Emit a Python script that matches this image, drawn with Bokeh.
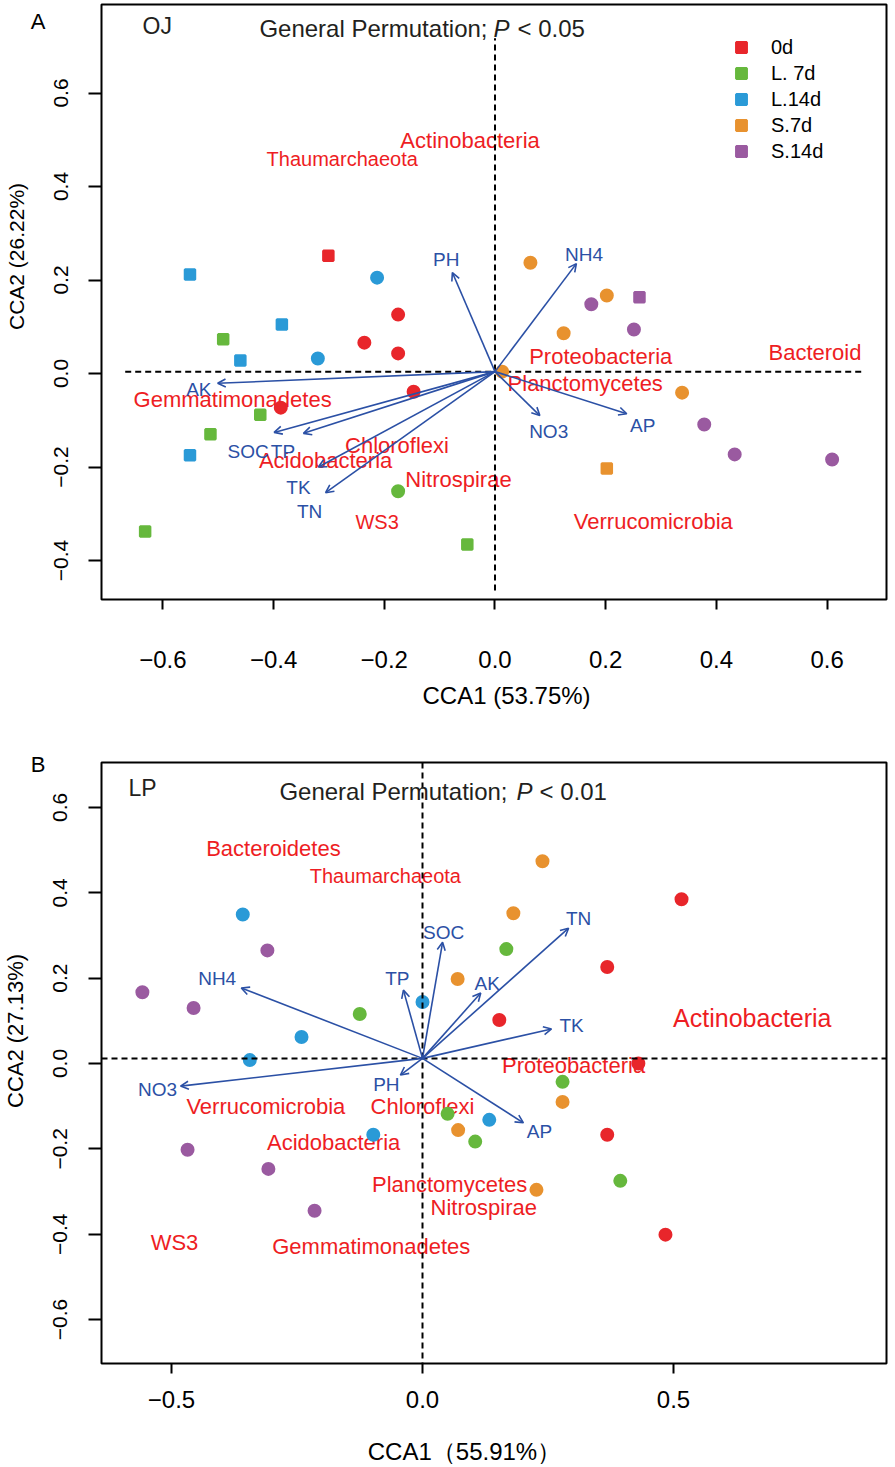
from bokeh.plotting import figure
from bokeh.models import (ColumnDataSource, Range1d, FixedTicker, Arrow, OpenHead,
                          Label, Legend, LegendItem, Span, Title, LinearAxis)
from bokeh.layouts import column
from bokeh.embed import file_html
from bokeh.resources import INLINE
from bokeh.core.properties import value

# ------------------------------------------------------------------ data
groups = ["0d", "L. 7d", "L.14d", "S.7d", "S.14d"]
group_colors = ["#E8262B", "#66B83D", "#2A9AD7", "#E8922F", "#9A5AA0"]

# ---- panel A (OJ): sample scores
A_site_x = [-0.551, -0.301, -0.491, -0.385, -0.460, -0.424, -0.514, -0.551, -0.632, -0.050,
            0.202, 0.261,
            -0.213, -0.175, -0.236, -0.175, -0.320, -0.147, -0.387, -0.175,
            0.064, 0.202, 0.174, 0.124, 0.251, 0.013, 0.338, 0.378, 0.433, 0.609]
A_site_y = [0.212, 0.252, 0.073, 0.105, 0.028, -0.088, -0.130, -0.175, -0.338, -0.366,
            -0.203, 0.163,
            0.205, 0.126, 0.066, 0.043, 0.032, -0.039, -0.073, -0.252,
            0.237, 0.167, 0.148, 0.086, 0.094, 0.004, -0.041, -0.109, -0.173, -0.184]
A_site_group = ["L.14d", "0d", "L. 7d", "L.14d", "L.14d", "L. 7d", "L. 7d", "L.14d", "L. 7d", "L. 7d",
                "S.7d", "S.14d",
                "L.14d", "0d", "0d", "0d", "L.14d", "0d", "0d", "L. 7d",
                "S.7d", "S.7d", "S.14d", "S.7d", "S.14d", "S.7d", "S.7d", "S.14d", "S.14d", "S.14d"]
A_site_shape = ["square"] * 12 + ["circle"] * 18

# ---- panel A: environmental vectors
A_env = ["AK", "SOC", "TP", "TK", "TN", "PH", "NH4", "NO3", "AP"]
A_env_x = [-0.501, -0.399, -0.346, -0.319, -0.306, -0.077, 0.147, 0.081, 0.238]
A_env_y = [-0.021, -0.126, -0.128, -0.200, -0.255, 0.216, 0.235, -0.090, -0.086]
A_env_lab_x = [-0.535, -0.446, -0.383, -0.355, -0.335, -0.088, 0.161, 0.097, 0.267]
A_env_lab_y = [-0.034, -0.167, -0.167, -0.244, -0.295, 0.244, 0.255, -0.124, -0.111]
A_origin = (0.0, 0.004)

# ---- panel A: phyla
A_phyla = ["Actinobacteria", "Thaumarchaeota", "Proteobacteria", "Bacteroid", "Planctomycetes",
           "Gemmatimonadetes", "Chloroflexi", "Acidobacteria", "Nitrospirae", "WS3", "Verrucomicrobia"]
A_phy_x = [-0.045, -0.276, 0.191, 0.578, 0.163, -0.474, -0.177, -0.306, -0.066, -0.213, 0.286]
A_phy_y = [0.498, 0.458, 0.036, 0.045, -0.021, -0.056, -0.154, -0.186, -0.227, -0.317, -0.317]

A_xticks = [-0.6, -0.4, -0.2, 0.0, 0.2, 0.4, 0.6]
A_xtick_labels = ["\u22120.6", "\u22120.4", "\u22120.2", "0.0", "0.2", "0.4", "0.6"]
A_yticks = [-0.4, -0.2, 0.0, 0.2, 0.4, 0.6]
A_ytick_labels = ["\u22120.4", "\u22120.2", "0.0", "0.2", "0.4", "0.6"]

# ---- panel B (LP): sample scores
B_site_x = [0.516, 0.368, 0.153, 0.430, 0.368, 0.484,
            -0.125, 0.167, 0.279, 0.050, 0.105, 0.394,
            -0.358, -0.241, -0.344, 0.000, 0.133, -0.098,
            0.239, 0.181, 0.070, 0.279, 0.071, 0.227,
            -0.309, -0.558, -0.456, -0.468, -0.307, -0.215]
B_site_y = [0.385, 0.226, 0.102, 0.000, -0.167, -0.401,
            0.116, 0.268, -0.043, -0.118, -0.183, -0.275,
            0.349, 0.062, 0.008, 0.144, -0.132, -0.167,
            0.474, 0.352, 0.198, -0.090, -0.156, -0.296,
            0.265, 0.167, 0.130, -0.202, -0.247, -0.345]
B_site_group = (["0d"] * 6 + ["L. 7d"] * 6 + ["L.14d"] * 6 + ["S.7d"] * 6 + ["S.14d"] * 6)
B_site_shape = ["circle"] * 30

# ---- panel B: environmental vectors
B_env = ["NH4", "NO3", "TP", "SOC", "PH", "AK", "TN", "TK", "AP"]
B_env_x = [-0.361, -0.482, -0.038, 0.040, -0.044, 0.116, 0.291, 0.257, 0.201]
B_env_y = [0.177, -0.053, 0.172, 0.284, -0.027, 0.165, 0.317, 0.081, -0.139]
B_env_lab_x = [-0.409, -0.528, -0.050, 0.042, -0.072, 0.129, 0.311, 0.297, 0.233]
B_env_lab_y = [0.200, -0.060, 0.200, 0.308, -0.050, 0.188, 0.340, 0.090, -0.160]
B_origin = (0.0, 0.012)

# ---- panel B: phyla
B_phyla = ["Bacteroidetes", "Thaumarchaeota", "Actinobacteria", "Proteobacteria", "Verrucomicrobia",
           "Chloroflexi", "Acidobacteria", "Planctomycetes", "Nitrospirae", "WS3", "Gemmatimonadetes"]
B_phy_x = [-0.297, -0.074, 0.657, 0.301, -0.312, 0.000, -0.177, 0.054, 0.122, -0.494, -0.102]
B_phy_y = [0.504, 0.439, 0.107, -0.004, -0.101, -0.101, -0.186, -0.284, -0.338, -0.420, -0.429]

B_xticks = [-0.5, 0.0, 0.5]
B_xtick_labels = ["\u22120.5", "0.0", "0.5"]
B_yticks = [-0.6, -0.4, -0.2, 0.0, 0.2, 0.4, 0.6]
B_ytick_labels = ["\u22120.6", "\u22120.4", "\u22120.2", "0.0", "0.2", "0.4", "0.6"]

# ------------------------------------------------------------------ styles / placement
FONT = "Liberation Sans"
RED_TXT = "#EE1D23"
BLUE = "#2B50A5"
DARK = "#231F20"
A_phy_sizes = ["22px", "20px", "22px", "22px", "22px", "22px", "22px", "22px", "22px", "20px", "22px"]
B_phy_sizes = ["22px", "20px", "25px", "22px", "22px", "22px", "22px", "22px", "22px", "22px", "22px"]
A_LETTER_Y = (373 - 4) / 467.5        # vertical place of the panel letter "A" (frame top)
B_LETTER_Y = (1063.5 - 764) / 427.5   # vertical place of the panel letter "B"
B_XTITLE_X = (464 - 422) / 502.0      # horizontal centre of panel B's x-axis title


def make_panel(width, height, borders, xr, yr, xticks, xlabels, yticks, ylabels,
               x_standoff, y_standoff):
    p = figure(width=width, height=height, output_backend="svg", toolbar_location=None,
               x_range=Range1d(*xr), y_range=Range1d(*yr),
               min_border_top=borders[0], min_border_right=borders[1],
               min_border_bottom=borders[2], min_border_left=borders[3])
    p.grid.visible = False
    p.outline_line_color = "black"
    p.outline_line_width = 2
    p.background_fill_color = "white"
    p.border_fill_color = "white"
    for ax, ticks, labels, out, stand in ((p.xaxis[0], xticks, xlabels, 10, x_standoff),
                                           (p.yaxis[0], yticks, ylabels, 13, y_standoff)):
        ax.ticker = FixedTicker(ticks=ticks)
        ax.major_label_overrides = {t: l for t, l in zip(ticks, labels)}
        ax.axis_line_color = None
        ax.major_tick_in = 0
        ax.major_tick_out = out
        ax.major_tick_line_width = 2
        ax.major_tick_line_color = "black"
        ax.minor_tick_line_color = None
        ax.major_label_text_font = FONT
        ax.major_label_text_color = "black"
        ax.major_label_standoff = stand
    p.xaxis.major_label_text_font_size = "24px"
    p.yaxis.major_label_text_font_size = "21px"
    p.yaxis.major_label_orientation = "vertical"
    return p


def draw_content(p, site_x, site_y, site_group, site_shape, env, env_x, env_y, lab_x, lab_y,
                 origin, phyla, phy_x, phy_y, phy_sizes, dash_segments):
    src = ColumnDataSource(dict(x=phy_x, y=phy_y, t=phyla, s=phy_sizes))
    p.text(x="x", y="y", text="t", source=src, text_align="center", text_baseline="middle",
           text_color=RED_TXT, text_font=value(FONT), text_font_size="s")
    if dash_segments is not None:
        p.segment(x0=dash_segments[0], y0=dash_segments[1], x1=dash_segments[2], y1=dash_segments[3],
                  line_color="black", line_width=2, line_dash="6 4")
    else:
        p.add_layout(Span(location=origin[0], dimension="height", line_color="black",
                          line_width=2, line_dash="6 4", level="glyph"))
        p.add_layout(Span(location=origin[1], dimension="width", line_color="black",
                          line_width=2, line_dash="6 4", level="glyph"))
    asrc = ColumnDataSource(dict(x0=[origin[0]] * len(env), y0=[origin[1]] * len(env),
                                 x1=env_x, y1=env_y))
    p.add_layout(Arrow(source=asrc, x_start="x0", y_start="y0", x_end="x1", y_end="y1",
                       line_color=BLUE, line_width=1.6, level="glyph",
                       end=OpenHead(size=8, line_color=BLUE, line_width=1.6)))
    esrc = ColumnDataSource(dict(x=lab_x, y=lab_y, t=env))
    p.text(x="x", y="y", text="t", source=esrc, text_align="center", text_baseline="middle",
           text_color=BLUE, text_font=value(FONT), text_font_size="19px")
    square_renderers = {}
    for g, c in zip(groups, group_colors):
        for shape in ("square", "circle"):
            idx = [i for i in range(len(site_x)) if site_group[i] == g and site_shape[i] == shape]
            if not idx:
                continue
            s = ColumnDataSource(dict(x=[site_x[i] for i in idx], y=[site_y[i] for i in idx]))
            if shape == "square":
                r = p.scatter("x", "y", source=s, marker="square", size=10, fill_color=c,
                              line_color=c, line_width=2.5)
                square_renderers[g] = r
            else:
                p.scatter("x", "y", source=s, marker="circle", size=12, fill_color=c,
                          line_color=c, line_width=2)
    return square_renderers


def add_label(p, text, x, y, size, color="black", align="center", style="normal"):
    p.add_layout(Label(x=x, y=y, x_units="screen", y_units="screen", text=text,
                       text_font=FONT, text_font_size=size, text_color=color,
                       text_align=align, text_baseline="middle", text_font_style=style))


def add_text_axis(p, side, pos, text, size, standoff):
    """A bare axis carrying one text label (panel letter / axis title) outside the frame."""
    ax = LinearAxis(ticker=FixedTicker(ticks=[pos]), major_label_overrides={pos: text},
                    axis_line_color=None, major_tick_line_color=None, minor_tick_line_color=None,
                    major_tick_out=0, major_tick_in=0, major_label_standoff=standoff,
                    major_label_orientation="horizontal",
                    major_label_text_font=FONT, major_label_text_font_size=size,
                    major_label_text_color="black")
    p.add_layout(ax, side)


def add_title(p, text, side, size, offset, standoff):
    p.add_layout(Title(text=text, align="left", offset=offset, standoff=standoff,
                       text_font=FONT, text_font_size=size, text_font_style="normal",
                       text_color="black"), side)


# ------------------------------------------------------------------ panel A
# frame: page x 101..893, y 4..599 ; y=0 at 373, x=0 at 498
pA = make_panel(895, 730, (4, 2, 131, 101),
                ((101 - 498) / 558.5, (893 - 498) / 558.5),
                ((373 - 599) / 467.5, (373 - 4) / 467.5),
                A_xticks, A_xtick_labels, A_yticks, A_ytick_labels, 41, 21)
A_dash = ([-0.668, 0.0], [A_origin[1], -0.464], [0.666, 0.0], [A_origin[1], 0.717])
sqA = draw_content(pA, A_site_x, A_site_y, A_site_group, A_site_shape, A_env, A_env_x, A_env_y,
                   A_env_lab_x, A_env_lab_y, A_origin, A_phyla, A_phy_x, A_phy_y, A_phy_sizes, A_dash)
legA = Legend(items=[LegendItem(label=g, renderers=[sqA[g]]) for g in groups],
              location=(627, 435), glyph_width=26, glyph_height=26, label_height=26,
              spacing=0, padding=0, margin=0, label_standoff=17,
              border_line_color=None, background_fill_alpha=0,
              label_text_font=FONT, label_text_font_size="20px", label_text_color="black")
pA.add_layout(legA)
add_label(pA, "OJ", 41, 574, "23px", DARK, align="left")
add_label(pA, "General Permutation;", 386, 571.5, "24px", DARK, align="right")
add_label(pA, "P", 392, 571.5, "24px", DARK, align="left", style="italic")
add_label(pA, "< 0.05", 416, 571.5, "24px", DARK, align="left")
add_text_axis(pA, "left", A_LETTER_Y, "A", "22px", 5)
add_title(pA, "CCA2 (26.22%)", "left", "21px", 269.5, 0)
add_title(pA, "CCA1  (53.75%)", "below", "24px", 321, 18)

# ------------------------------------------------------------------ panel B
# frame: page x 101..886, y 762..1364 (figure starts at page y 730)
pB = make_panel(895, 737, (32, 9, 103, 101),
                ((101 - 422) / 502.0, (886 - 422) / 502.0),
                ((1063.5 - 1364) / 427.5, (1063.5 - 762) / 427.5),
                B_xticks, B_xtick_labels, B_yticks, B_ytick_labels, 17, 21)
draw_content(pB, B_site_x, B_site_y, B_site_group, B_site_shape, B_env, B_env_x, B_env_y,
             B_env_lab_x, B_env_lab_y, B_origin, B_phyla, B_phy_x, B_phy_y, B_phy_sizes, None)
add_label(pB, "LP", 27, 576, "23px", DARK, align="left")
add_label(pB, "General Permutation;", 406, 572.5, "24px", DARK, align="right")
add_label(pB, "P", 415, 572.5, "24px", DARK, align="left", style="italic")
add_label(pB, "< 0.01", 438, 572.5, "24px", DARK, align="left")
add_text_axis(pB, "left", B_LETTER_Y, "B", "22px", 5)
add_title(pB, "CCA2 (27.13%)", "left", "22px", 255.5, 0)
add_text_axis(pB, "below", B_XTITLE_X, "CCA1\uff0855.91%\uff09", "24px", 27)

layout = column(pA, pB, spacing=0)
open("out.html", "w").write(file_html(layout, INLINE))
